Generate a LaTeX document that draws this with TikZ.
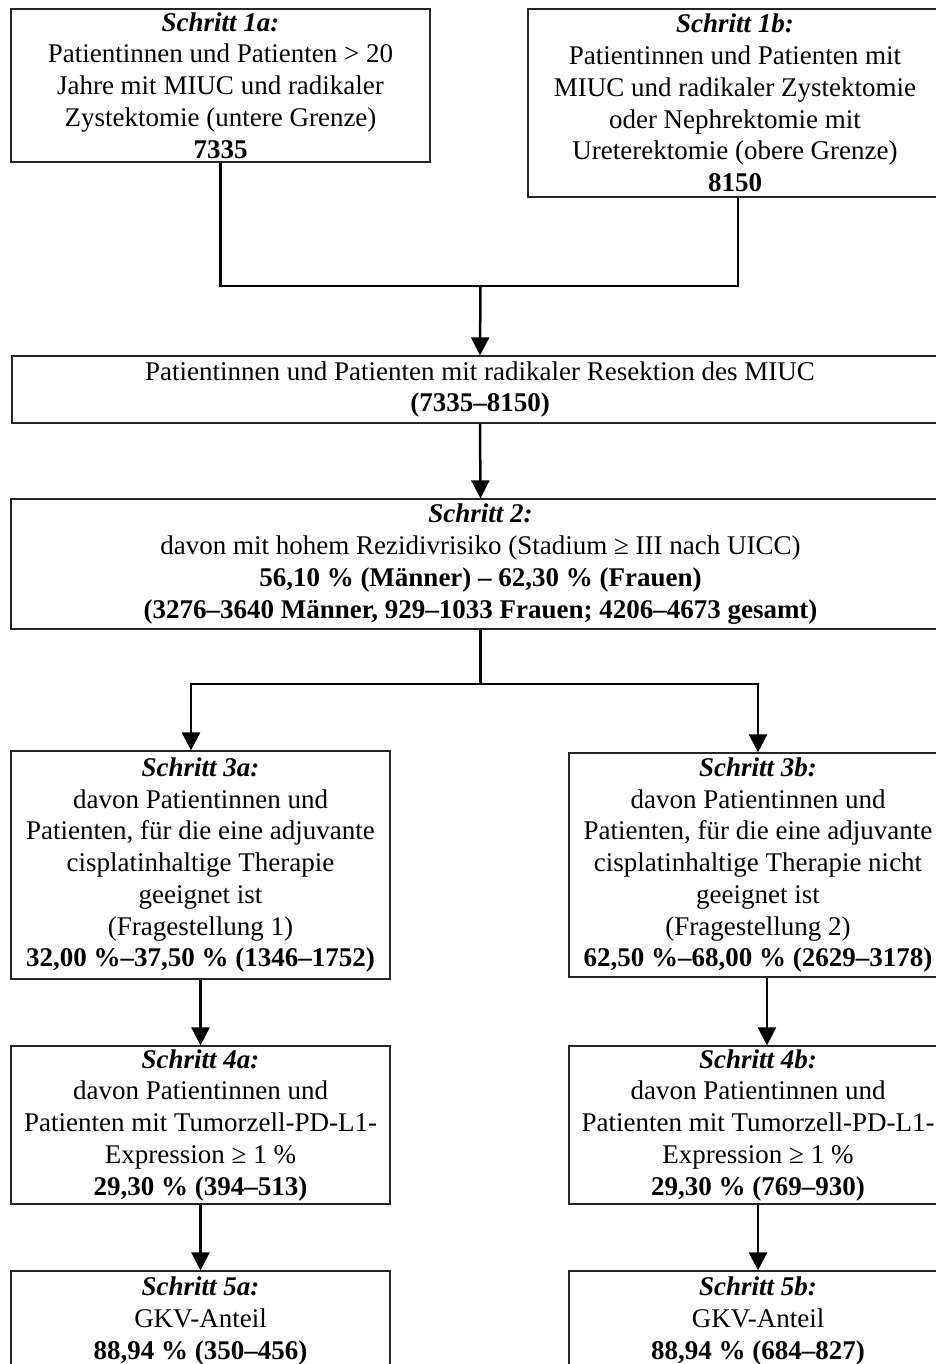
\documentclass[tikz,border=0pt]{standalone}
\usepackage{fontspec}
\setmainfont{Liberation Serif}
\usetikzlibrary{arrows.meta,calc}
\tikzset{
  box/.style={draw=black!85, line width=1.2pt, align=center, inner sep=2pt,
    font=\fontsize{27}{31.75}\selectfont},
  conn/.style={line width=2.5pt, black},
  arr/.style={conn, -{Triangle[width=18pt,length=18pt]}},
}
\newcommand{\stp}[1]{\textbf{\textit{#1}}}
\begin{document}
\begin{tikzpicture}[x=1pt,y=-1pt]
\useasboundingbox (0,0) rectangle (936,1364);
\node[box, minimum width=419pt, minimum height=153pt] (s1a) at (220.5,85.5)
  {\stp{Schritt 1a:}\\Patientinnen und Patienten > 20\\Jahre mit MIUC und radikaler\\Zystektomie (untere Grenze)\\\textbf{7335}};
\node[box, minimum width=414pt, minimum height=188pt] (s1b) at (735,103)
  {\stp{Schritt 1b:}\\Patientinnen und Patienten mit\\MIUC und radikaler Zystektomie\\oder Nephrektomie mit\\Ureterektomie (obere Grenze)\\\textbf{8150}};
\node[box, minimum width=936pt, minimum height=67pt] (res) at (480,389.5)
  {Patientinnen und Patienten mit radikaler Resektion des MIUC\\\textbf{(7335–8150)}};
\node[box, minimum width=939pt, minimum height=130pt] (s2) at (480.5,564)
  {\stp{Schritt 2:}\\davon mit hohem Rezidivrisiko (Stadium ≥ III nach UICC)\\\textbf{56,10 \% (Männer) – 62,30 \% (Frauen)}\\\textbf{(3276–3640 Männer, 929–1033 Frauen; 4206–4673 gesamt)}};
\node[box, minimum width=379pt, minimum height=228pt] (s3a) at (200.5,865)
  {\stp{Schritt 3a:}\\davon Patientinnen und\\Patienten, für die eine adjuvante\\cisplatinhaltige Therapie\\geeignet ist\\(Fragestellung 1)\\\textbf{32,00 \%–37,50 \% (1346–1752)}};
\node[box, minimum width=378pt, minimum height=224pt] (s3b) at (758,865)
  {\stp{Schritt 3b:}\\davon Patientinnen und\\Patienten, für die eine adjuvante\\cisplatinhaltige Therapie nicht\\geeignet ist\\(Fragestellung 2)\\\textbf{62,50 \%–68,00 \% (2629–3178)}};
\node[box, minimum width=379pt, minimum height=158pt] (s4a) at (200.5,1125)
  {\stp{Schritt 4a:}\\davon Patientinnen und\\Patienten mit Tumorzell-PD-L1-\\Expression ≥ 1 \%\\\textbf{29,30 \% (394–513)}};
\node[box, minimum width=378pt, minimum height=158pt] (s4b) at (758,1125)
  {\stp{Schritt 4b:}\\davon Patientinnen und\\Patienten mit Tumorzell-PD-L1-\\Expression ≥ 1 \%\\\textbf{29,30 \% (769–930)}};
\node[box, minimum width=379pt, minimum height=100pt] (s5a) at (200.5,1321)
  {\stp{Schritt 5a:}\\GKV-Anteil\\\textbf{88,94 \% (350–456)}};
\node[box, minimum width=378pt, minimum height=100pt] (s5b) at (758,1321)
  {\stp{Schritt 5b:}\\GKV-Anteil\\\textbf{88,94 \% (684–827)}};
\coordinate (j1) at (480.5,286);
\coordinate (j2) at (480.5,684);
\draw[conn] (s1a.south) |- (j1);
\draw[conn] ([xshift=3pt]s1b.south) |- (j1);
\draw[arr] (j1) -- (res.north);
\draw[arr] (res.south) -- (s2.north);
\draw[conn] (s2.south) -- (j2);
\draw[arr] (j2) -| ([xshift=-9.5pt]s3a.north);
\draw[arr] (j2) -| (s3b.north);
\draw[arr] (s3a.south) -- (s4a.north);
\draw[arr] ([xshift=9pt]s3b.south) -- ([xshift=9pt]s4b.north);
\draw[arr] (s4a.south) -- (s5a.north);
\draw[arr] (s4b.south) -- (s5b.north);
\end{tikzpicture}
\end{document}
